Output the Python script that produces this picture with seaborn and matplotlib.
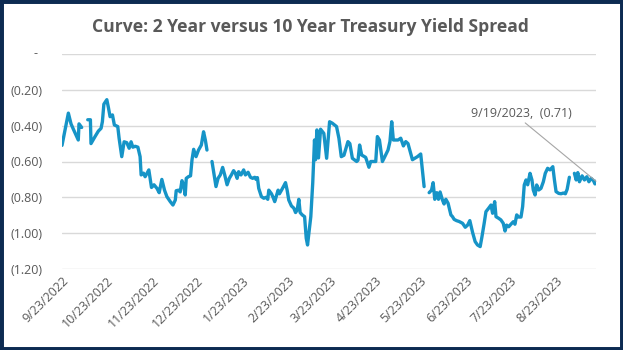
import numpy as np
import pandas as pd
import matplotlib
matplotlib.use("Agg")
import matplotlib.pyplot as plt
import matplotlib.dates as mdates
import matplotlib.transforms as mtransforms
from matplotlib.ticker import FuncFormatter, FixedLocator
from matplotlib.patches import Rectangle
import seaborn as sns

start_date = "2022-09-23"
# days after start date; NaN values mark gaps in the line
day_offset = [0, 4.3, 6.1, 7.7, 11, 11.5, 13.3, 15, 17.4, 19.2, 19.6, 22.4, 24.6, 26.4, 27.3, 28.3,
              30.3, 31.4, 32.5, 34.1, 35.4, 37.7, 38.6, 40.4, 42, 43.8, 45.4, 46.7, 47.9, 49.5, 51.3,
              52.8, 53.5, 55.1, 56.2, 58.7, 60.5, 62.2, 64.2, 65.7, 67.5, 69.3, 70.9, 73.2, 75, 76.6,
              77.2, 78.8, 79.9, 81.1, 82.2, 83.3, 84, 85.6, 86.9, 87.9, 89, 90.6, 92.3, 94.2, 95.7,
              96.9, 98, 99.5, 101.4, 104.1, 105.5, 107, 108.6, 110, 111.6, 113.1, 114.5, 116, 117.2,
              118.4, 119.4, 121, 122.8, 124, 125.8, 127.4, 128.9, 130.3, 131.2, 132.1, 133, 134.8,
              136.4, 138, 139.1, 139.8, 141.6, 142.7, 143.8, 144.8, 146.1, 147, 148.4, 149.9, 151.1,
              152.2, 153.3, 155.1, 156.7, 157.9, 159, 160.1, 161, 162.4, 164, 165.1, 166, 166.9,
              168.2, 169.5, 170.7, 171.4, 172.3, 173.4, 174.8, 177, 178.9, 180.9, 182.7, 185.6,
              187.2, 188.8, 190.6, 193.3, 194.6, 196.3, 199.2, 200.1, 201.2, 202.6, 205.3, 207.5,
              208.7, 212.1, 213.2, 214.6, 216.6, 217.7, 220.4, 221.7, 222.9, 224, 227.2, 229, 230.8,
              232.4, 233.9, 236.9, 240.3, 242.5, 244.8, 246.5, 248.2, 249.8, 250.9, 252, 253.4,
              254.5, 255.6, 257.2, 258.3, 259.5, 261, 262.9, 264, 265.1, 266.7, 268.5, 270.8, 272.6,
              274.2, 275.7, 277.6, 279.3, 280.9, 282.7, 283.9, 285.4, 286.6, 288.4, 290, 291.1,
              292.5, 293.4, 295.2, 296.7, 298.3, 299.5, 300.6, 302, 303.5, 305.1, 306.2, 307.4,
              308.7, 310.3, 311.4, 312.5, 313.7, 314.8, 316.4, 317.7, 318.6, 319.8, 320.9, 322.3,
              323.8, 325.4, 326.7, 328.3, 329.9, 331.8, 332.9, 334, 335.8, 337.4, 338.9, 340.3,
              341.5, 343, 344.5, 346.4, 347.6, 348.7, 349.8, 351.6, 353.2, 354.8, 356.2, 357.7,
              359.3, 360.3, 361]
spread = [-0.51, -0.33, -0.39, -0.42, -0.48, -0.39, -0.41, np.nan, -0.367, -0.367, -0.50, -0.46,
          -0.43, -0.415, -0.378, -0.28, -0.255, -0.30, -0.35, -0.34, -0.396, -0.405, -0.47, -0.573,
          -0.49, -0.495, -0.526, -0.49, -0.52, -0.515, -0.52, -0.573, -0.675, -0.665, -0.685,
          -0.647, -0.745, -0.73, -0.75, -0.774, -0.70, -0.76, -0.796, -0.824, -0.843, -0.815,
          -0.763, -0.76, -0.77, -0.707, -0.73, -0.787, -0.694, -0.684, -0.68, -0.59, -0.532,
          -0.573, -0.536, -0.508, -0.434, -0.48, -0.536, np.nan, -0.60, -0.74, -0.694, -0.675,
          -0.633, -0.675, -0.73, -0.694, -0.675, -0.651, -0.666, -0.694, -0.657, -0.675, -0.647,
          -0.675, -0.66, -0.688, -0.694, -0.688, -0.70, -0.69, -0.75, -0.796, -0.805, -0.80,
          -0.811, -0.76, -0.78, -0.80, -0.824, -0.796, -0.76, -0.78, -0.76, -0.737, -0.718, -0.76,
          -0.815, -0.848, -0.86, -0.885, -0.87, -0.811, -0.885, -0.898, -0.908, -1.028, -1.066,
          -1.0, -0.908, -0.72, -0.48, -0.59, -0.424, -0.58, -0.42, -0.443, -0.582, -0.378, -0.386,
          -0.405, -0.47, -0.573, -0.565, -0.489, -0.50, -0.582, -0.60, -0.593, -0.508, -0.564,
          -0.577, -0.632, -0.60, -0.60, -0.461, -0.48, -0.60, -0.582, -0.536, -0.489, -0.378,
          -0.48, -0.48, -0.47, -0.513, -0.489, -0.50, -0.59, -0.573, -0.558, -0.74, np.nan,
          -0.774, -0.76, -0.718, -0.811, -0.774, -0.811, -0.77, -0.815, -0.837, -0.811, -0.833,
          -0.898, -0.908, -0.923, -0.93, -0.935, -0.945, -0.967, -0.955, -0.93, -0.997, -1.047,
          -1.066, -1.075, -1.02, -0.945, -0.88, -0.861, -0.843, -0.889, -0.824, -0.908, -0.917,
          -0.926, -0.945, -0.988, -0.955, -0.964, -0.95, -0.936, -0.95, -0.898, -0.91, -0.91,
          -0.852, -0.731, -0.703, -0.73, -0.666, -0.703, -0.759, -0.787, -0.731, -0.759, -0.75,
          -0.713, -0.666, -0.638, -0.647, -0.629, -0.703, -0.768, -0.778, -0.78, -0.776, -0.78,
          -0.755, -0.688, np.nan, -0.666, -0.703, -0.662, -0.713, -0.68, -0.703, -0.685, -0.713,
          -0.694, -0.707, -0.725, -0.71]

y_ticks = [0, -0.2, -0.4, -0.6, -0.8, -1.0, -1.2]
zero_label = "-"
title = "Curve: 2 Year versus 10 Year Treasury Yield Spread"
annotation_text = "9/19/2023,  (0.71)"

line_color = "#1694C7"
text_color = "#595959"
grid_color = "#D9D9D9"
border_color = "#0D2B52"

df = pd.DataFrame({"day": day_offset, "spread": spread})
df["date"] = pd.Timestamp(start_date) + pd.to_timedelta(df["day"], unit="D")
df["segment"] = df["spread"].isna().cumsum()
df = df.dropna()

sns.set_theme(style="white")
plt.rcParams["font.family"] = ["Open Sans", "DejaVu Sans"]

fig = plt.figure(figsize=(6.23, 3.5), dpi=100)
ax = fig.add_axes([62 / 623, 1 - 269 / 350, (596 - 62) / 623, (269 - 54) / 350])

sns.lineplot(data=df, x="date", y="spread", units="segment", estimator=None,
             color=line_color, linewidth=2.4, ax=ax, legend=False)

x0 = pd.Timestamp(start_date)
ax.set_xlim(x0, x0 + pd.Timedelta(days=361))
ax.set_ylim(-1.2, 0)

ax.yaxis.set_major_locator(FixedLocator(y_ticks))


def fmt(v, pos):
    if abs(v) < 1e-9:
        return ""
    return f"({abs(v):.2f})"


ax.yaxis.set_major_formatter(FuncFormatter(fmt))
ax.xaxis.set_major_locator(mdates.MonthLocator(bymonthday=23))
ax.xaxis.set_major_formatter(mdates.DateFormatter("%-m/%d/%Y"))

ax.grid(axis="y", color=grid_color, linewidth=1.0)
ax.grid(axis="x", visible=False)
for s in ax.spines.values():
    s.set_visible(False)
ax.tick_params(axis="y", length=0, pad=14, labelsize=9, labelcolor=text_color)
ax.tick_params(axis="x", length=0, pad=4, labelsize=9, labelcolor=text_color)
for lab in ax.get_xticklabels():
    lab.set_rotation(45)
    lab.set_ha("right")
    lab.set_rotation_mode("anchor")
ax.set_xlabel("")
ax.set_ylabel("")

# zero label in accounting style (dash sits left of the numeric column)
blend = mtransforms.blended_transform_factory(ax.transAxes, ax.transData)
ax.text((35 - 62) / 534, y_ticks[0], zero_label, transform=blend, ha="center", va="center",
        fontsize=9, color=text_color, clip_on=False)

last = df.iloc[-1]
ax.annotate(annotation_text, xy=(last["date"], last["spread"]),
            xytext=(x0 + pd.Timedelta(days=276.4), -0.33),
            ha="left", va="center", fontsize=9, color=text_color,
            arrowprops=dict(arrowstyle="-", color="#A6A6A6", lw=0.8,
                            shrinkA=0, shrinkB=0, relpos=(0.5, 0.0)))

fig.text(310 / 623, 1 - 27 / 350, title, ha="center", va="center",
         fontsize=12.6, fontweight="bold", color=text_color)

fig.patches.append(Rectangle((0, 0), 1, 1, transform=fig.transFigure, fill=False,
                             edgecolor=border_color, linewidth=5, zorder=10))

fig.savefig("out.png", dpi=100)
